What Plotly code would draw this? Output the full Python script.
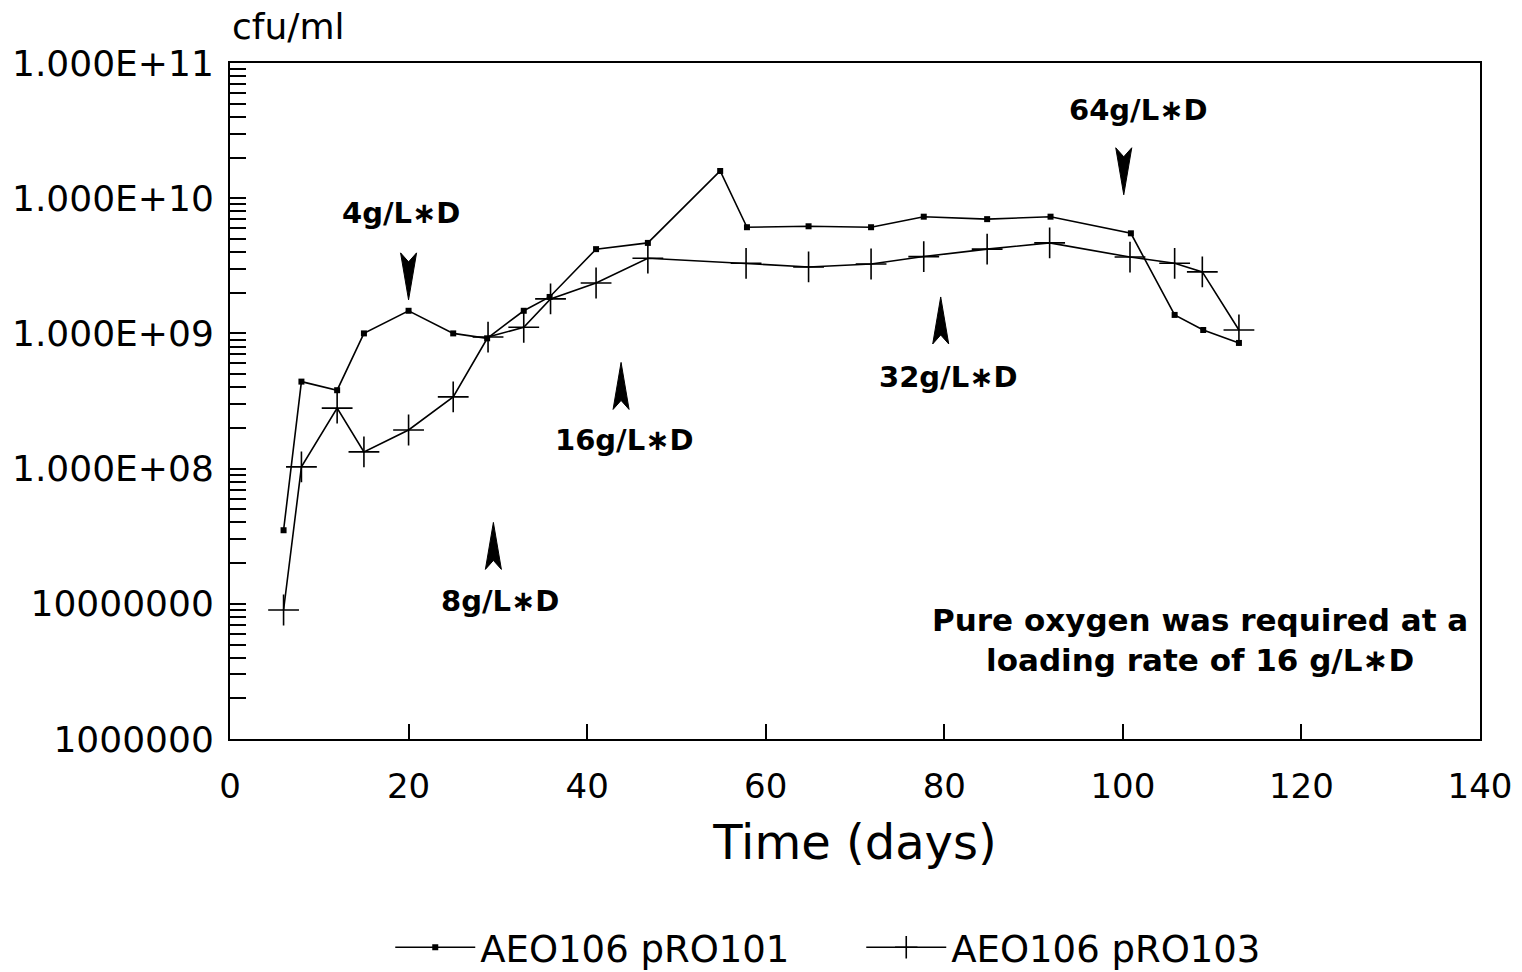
import plotly.graph_objects as go

# ---- data ----
days_101 = [6, 8, 12, 15, 20, 25, 28.8, 32.9, 35.8, 41, 46.8, 54.9, 57.9, 64.8, 71.8, 77.7, 84.8, 91.9, 100.9, 105.8, 109, 113]
cfu_101 = [3.5e7, 4.4e8, 3.8e8, 1.0e9, 1.47e9, 1.0e9, 9.2e8, 1.47e9, 1.86e9, 4.2e9, 4.67e9, 1.59e10, 6.1e9,
           6.2e9, 6.1e9, 7.3e9, 7.0e9, 7.3e9, 5.5e9, 1.37e9, 1.06e9, 8.5e8]

days_103 = [6, 8, 12, 15, 20, 25, 28.9, 32.9, 35.9, 41, 46.8, 57.8, 64.8, 71.8, 77.7, 84.8, 91.8, 100.8, 105.8, 108.9, 113]
cfu_103 = [9.0e6, 1.03e8, 2.8e8, 1.33e8, 1.93e8, 3.39e8, 9.4e8, 1.11e9, 1.8e9, 2.36e9, 3.6e9, 3.3e9,
           3.1e9, 3.26e9, 3.7e9, 4.2e9, 4.67e9, 3.67e9, 3.3e9, 2.85e9, 1.06e9]

series_names = ["AEO106 pRO101", "AEO106 pRO103"]

# loading-rate markers
arrow_x = [20, 29.5, 43.8, 79.6, 100.1]
arrow_y = [1.77e9, 4.0e7, 6.1e8, 1.86e9, 1.06e10]
arrow_dir = ["down", "up", "up", "up", "down"]
label_text = ["4g/L∗D", "8g/L∗D", "16g/L∗D", "32g/L∗D", "64g/L∗D"]
label_x = [19.2, 30.2, 44.2, 80.5, 101.7]
label_logy = [9.891, 7.021, 8.212, 8.678, 10.652]

note_text = "Pure oxygen was required at a<br>loading rate of 16 g/L∗D"
note_x = 108.6
note_logy = 6.732

x_ticks = [0, 20, 40, 60, 80, 100, 120, 140]
y_major = [1e6, 1e7, 1e8, 1e9, 1e10, 1e11]
y_major_labels = ["1000000", "10000000", "1.000E+08", "1.000E+09", "1.000E+10", "1.000E+11"]

# ---- figure ----
FONT = "DejaVu Sans"
fig = go.Figure()

fig.add_trace(go.Scatter(
    x=days_101, y=cfu_101, name=series_names[0], mode="lines+markers",
    line=dict(color="black", width=1.6),
    marker=dict(symbol="square", size=6, color="black"),
))
fig.add_trace(go.Scatter(
    x=days_103, y=cfu_103, name=series_names[1], mode="lines+markers",
    line=dict(color="black", width=1.6),
    marker=dict(symbol="cross-thin", size=22, color="black", line=dict(color="black", width=1.6)),
))

# y ticks: all decade sub-ticks, labels only on powers of ten
tickvals, ticktext = [], []
for k in range(6, 11):
    for m in range(1, 10):
        v = m * 10 ** k
        tickvals.append(v)
        ticktext.append(y_major_labels[y_major.index(v)] if m == 1 else "")
tickvals.append(1e11)
ticktext.append(y_major_labels[-1])

# arrowheads as pixel-sized shapes anchored at data points
shapes = []
for ax_, ay_, d in zip(arrow_x, arrow_y, arrow_dir):
    s = 1 if d == "up" else -1
    path = f"M0,0 L{-8},{-47*s} L0,{-38*s} L8,{-47*s} Z"
    shapes.append(dict(type="path", xref="x", yref="y", xsizemode="pixel", ysizemode="pixel",
                       xanchor=ax_, yanchor=ay_, path=path,
                       fillcolor="black", line=dict(color="black", width=1)))

annotations = []
for t, lx, ly in zip(label_text, label_x, label_logy):
    annotations.append(dict(x=lx, y=ly, xref="x", yref="y", text=f"<b>{t}</b>", showarrow=False,
                            font=dict(family=FONT, size=29, color="black")))
annotations.append(dict(x=note_x, y=note_logy, xref="x", yref="y", text=f"<b>{note_text}</b>",
                        showarrow=False, align="center",
                        font=dict(family=FONT, size=31, color="black")))
annotations.append(dict(x=0, y=1, xref="paper", yref="paper", text="cfu/ml", showarrow=False,
                        xanchor="left", yanchor="bottom", yshift=14,
                        font=dict(family=FONT, size=36, color="black")))

fig.update_layout(
    width=1522, height=972,
    margin=dict(l=230, r=42, t=63, b=233),
    paper_bgcolor="white", plot_bgcolor="white",
    font=dict(family=FONT, color="black"),
    showlegend=True,
    legend=dict(orientation="h", x=0.505, xanchor="center", yref="container", y=0.025, yanchor="middle",
                font=dict(family=FONT, size=37, color="black"), itemwidth=80,
                entrywidth=376, entrywidthmode="pixels"),
    shapes=shapes,
    annotations=annotations,
)

fig.update_xaxes(
    range=[0, 140], tickvals=x_ticks, ticks="inside", ticklen=15, tickwidth=1.5, tickcolor="black",
    showline=True, linecolor="black", linewidth=2, mirror=True, showgrid=False, zeroline=False,
    tickfont=dict(family=FONT, size=34, color="black"), ticklabelstandoff=16, automargin=False,
    title=dict(text="Time (days)", font=dict(family=FONT, size=48, color="black"), standoff=21),
)
fig.update_yaxes(
    type="log", range=[6, 11], tickvals=tickvals, ticktext=ticktext,
    ticks="inside", ticklen=16, tickwidth=1.5, tickcolor="black",
    showline=True, linecolor="black", linewidth=2, mirror=True, showgrid=False, zeroline=False,
    tickfont=dict(family=FONT, size=36, color="black"), ticklabelstandoff=7, automargin=False,
)

fig.write_html("out.html")
